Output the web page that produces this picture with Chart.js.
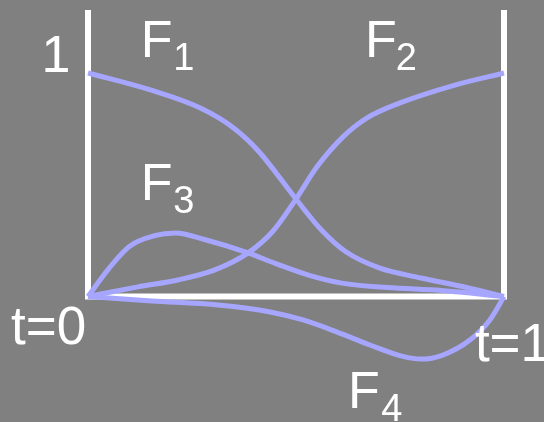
<!DOCTYPE html>
<html>
<head>
<meta charset="utf-8">
<script src="https://cdn.jsdelivr.net/npm/chart.js@4"></script>
<style>
  body { margin: 0; background: #808080; }
  canvas { display: block; }
</style>
</head>
<body>
<canvas id="chart" width="544" height="422"></canvas>
<script>
// basis curves: t along the bottom, value up
var f1T = [0, 0.15, 0.27, 0.35, 0.41, 0.5, 0.56, 0.62, 0.7, 0.8, 0.9, 1];
var f1V = [1, 0.924, 0.843, 0.754, 0.65, 0.436, 0.3, 0.2, 0.128, 0.083, 0.045, 0];

var f2T = [0, 0.12, 0.216, 0.305, 0.385, 0.445, 0.5, 0.55, 0.613, 0.671, 0.75, 0.882, 1];
var f2V = [0, 0.043, 0.074, 0.119, 0.195, 0.293, 0.436, 0.579, 0.714, 0.799, 0.866, 0.946, 1];

var f3T = [0, 0.05, 0.1, 0.16, 0.21, 0.28, 0.385, 0.45, 0.53, 0.61, 0.72, 0.85, 1];
var f3V = [0, 0.125, 0.225, 0.272, 0.284, 0.255, 0.195, 0.148, 0.096, 0.06, 0.04, 0.027, 0];

var f4T = [0, 0.154, 0.313, 0.438, 0.517, 0.599, 0.678, 0.757, 0.8, 0.853, 0.918, 0.966, 1];
var f4V = [0, -0.020, -0.038, -0.069, -0.105, -0.159, -0.217, -0.268, -0.280, -0.262, -0.195, -0.105, 0];

// white frame: two uprights and the base
var frameT = [0, 0, 1, 1];
var frameV = [1.282, 0, 0, 1.282];

function pts(ts, vs) {
    return ts.map(function (t, i) { return { x: t, y: vs[i] }; });
}

var curveColor = '#a6a6ff';

// text labels placed in data units: [text, t, value, size, align]
var labels = [
    ['1', -0.042, 1.004, 52, 'right'],
    ['F', 0.127, 1.072, 52, 'left'],
    ['1', 0.205, 1.013, 38, 'left'],
    ['F', 0.666, 1.072, 52, 'left'],
    ['2', 0.740, 1.013, 38, 'left'],
    ['F', 0.127, 0.432, 52, 'left'],
    ['3', 0.205, 0.374, 38, 'left'],
    ['F', 0.625, -0.499, 52, 'left'],
    ['4', 0.705, -0.557, 38, 'left'],
    ['t=0', -0.185, -0.213, 53, 'left'],
    ['t=1', 0.930, -0.289, 53, 'left']
];

var textPlugin = {
    id: 'texts',
    afterDatasetsDraw: function (chart) {
        var ctx = chart.ctx;
        var xs = chart.scales.x, ys = chart.scales.y;
        ctx.save();
        ctx.fillStyle = '#ffffff';
        ctx.textBaseline = 'alphabetic';
        labels.forEach(function (l) {
            ctx.font = l[3] + 'px "Liberation Sans", Arial, sans-serif';
            ctx.textAlign = l[4];
            ctx.fillText(l[0], xs.getPixelForValue(l[1]), ys.getPixelForValue(l[2]));
        });
        ctx.restore();
    }
};

function curve(ts, vs) {
    return {
        data: pts(ts, vs),
        borderColor: curveColor,
        borderWidth: 5,
        pointRadius: 0,
        cubicInterpolationMode: 'monotone',
        fill: false,
        clip: false
    };
}

var ctx = document.getElementById('chart').getContext('2d');
var chart = new Chart(ctx, {
    type: 'line',
    data: {
        datasets: [
            curve(f1T, f1V),
            curve(f2T, f2V),
            curve(f3T, f3V),
            curve(f4T, f4V),
            {
                data: pts(frameT, frameV),
                borderColor: '#ffffff',
                borderWidth: 6,
                pointRadius: 0,
                tension: 0,
                fill: false,
                clip: false
            }
        ]
    },
    options: {
        responsive: false,
        animation: false,
        layout: { padding: { left: 88, right: 40, top: 0, bottom: 0 } },
        plugins: { legend: { display: false }, tooltip: { enabled: false } },
        scales: {
            x: { type: 'linear', min: 0, max: 1, display: false },
            y: { type: 'linear', min: -0.5615, max: 1.3266, display: false }
        }
    },
    plugins: [textPlugin]
});
</script>
</body>
</html>
